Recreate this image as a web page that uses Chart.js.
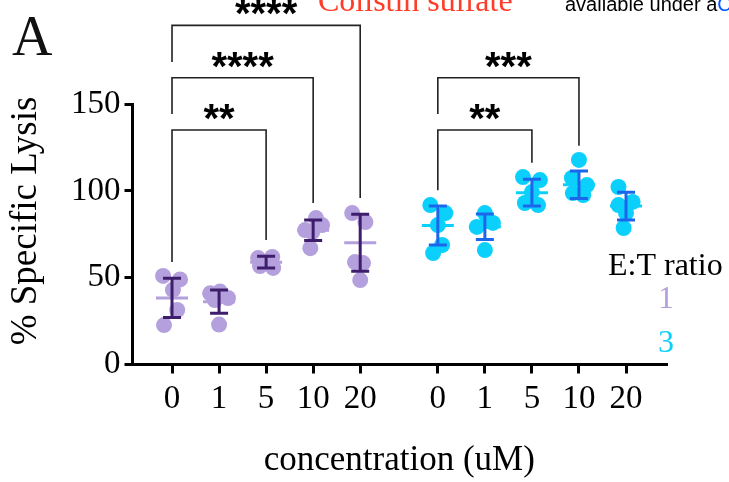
<!DOCTYPE html>
<html>
<head>
<meta charset="utf-8">
<script src="https://cdn.jsdelivr.net/npm/chart.js@4.4.1/dist/chart.umd.min.js"></script>
<style>
  html, body { margin: 0; padding: 0; background: #fff; }
  #wrap { width: 729px; height: 482px; }
</style>
</head>
<body>
<div id="wrap"><canvas id="lysisChart" width="729" height="482"></canvas></div>
<script>
// concentraciones (uM) en cada bloque
const concLabels = ['0', '1', '5', '10', '20'];
const ratioLabels = ['1', '3'];

// E:T 1 - valores individuales por concentración
const et1Values = [
  [51, 49, 43, 31.4, 22.7],
  [42, 41, 38.3, 37.1, 23],
  [61.3, 61.9, 59, 56.7, 55.6],
  [84.3, 80.3, 77.4, 76.3, 67],
  [87.2, 82, 59, 58.4, 48.6]
];
const et1Jitter = [
  [-0.19, 0.17, 0.02, 0.11, -0.17],
  [0.02, -0.19, 0.19, -0.09, 0],
  [-0.17, 0.13, 0, -0.13, 0.15],
  [0.06, 0.19, -0.17, -0.02, -0.06],
  [-0.17, 0.11, -0.11, 0.06, 0]
];
const et1Mean = [38.3, 36.2, 58.9, 77.3, 70.1];
const et1Sd = [11.3, 6.7, 3.4, 5.9, 16.4];

// E:T 3
const et3Values = [
  [91.8, 87.2, 80.3, 68.8, 64.2],
  [87.2, 79.2, 81.5, 82.6, 65.9],
  [107.9, 106.2, 99.3, 93, 91.8],
  [117.8, 107.4, 103.3, 98.7, 97.6],
  [102.2, 93.6, 91.8, 87.2, 78.6]
];
const et3Jitter = [
  [-0.16, 0.16, 0, 0.09, -0.1],
  [0, -0.17, 0.17, 0.06, 0],
  [-0.19, 0.17, 0, -0.15, 0.13],
  [0, -0.15, 0.17, -0.13, 0.09],
  [-0.16, 0.14, -0.16, 0, -0.05]
];
const et3Mean = [80, 79.3, 98.9, 103.5, 91.2];
const et3Sd = [11.2, 7.3, 7.7, 7.9, 8];

// comparaciones (índice de columna 0-9)
const bracketFrom = [0, 0, 0, 5, 5];
const bracketTo = [2, 3, 4, 7, 8];
const bracketTop = [135, 165.1, 195.3, 135, 165.1];
const bracketLeftEnd = [59, 144.2, 174.2, 100.4, 144.2];
const bracketRightEnd = [71.7, 93, 95.9, 116.1, 125.9];
const bracketLabel = ['**', '****', '****', '**', '***'];

const yTicks = [0, 50, 100, 150];

// posición de cada columna en el eje x
const blockStart = [0, 5.65];
const colPos = [];
blockStart.forEach(b => concLabels.forEach((c, i) => colPos.push(b + i)));

const light = ['rgb(180,160,220)', 'rgb(12,208,252)'];
const dark = ['rgb(62,30,108)', 'rgb(28,102,236)'];

function toPoints(values, jitter, block) {
  const pts = [];
  values.forEach((col, i) => {
    col.forEach((v, k) => pts.push({ x: blockStart[block] + i + jitter[i][k], y: v }));
  });
  return pts;
}

const serif = '"Liberation Serif", "Times New Roman", serif';

const extras = {
  id: 'extras',
  afterDatasetsDraw(chart) {
    const { ctx, scales: { x, y } } = chart;
    ctx.save();
    // media y desviación
    [[et1Mean, et1Sd], [et3Mean, et3Sd]].forEach(([means, sds], g) => {
      means.forEach((m, i) => {
        const cx = x.getPixelForValue(blockStart[g] + i);
        const my = y.getPixelForValue(m);
        const hi = y.getPixelForValue(m + sds[i]);
        const lo = y.getPixelForValue(m - sds[i]);
        ctx.lineWidth = 3;
        ctx.strokeStyle = light[g];
        ctx.beginPath();
        ctx.moveTo(cx - 16, my); ctx.lineTo(cx + 16, my);
        ctx.stroke();
        ctx.strokeStyle = dark[g];
        ctx.beginPath();
        ctx.moveTo(cx, hi); ctx.lineTo(cx, lo);
        ctx.moveTo(cx - 9, hi); ctx.lineTo(cx + 9, hi);
        ctx.moveTo(cx - 9, lo); ctx.lineTo(cx + 9, lo);
        ctx.stroke();
      });
    });
    // corchetes de significancia
    ctx.strokeStyle = '#222';
    ctx.lineWidth = 1.6;
    ctx.fillStyle = '#000';
    ctx.font = 'bold 40px "Liberation Sans", Arial, sans-serif';
    ctx.textAlign = 'center';
    bracketFrom.forEach((f, i) => {
      const x1 = x.getPixelForValue(colPos[f]);
      const x2 = x.getPixelForValue(colPos[bracketTo[i]]);
      const top = y.getPixelForValue(bracketTop[i]);
      ctx.beginPath();
      ctx.moveTo(x1, y.getPixelForValue(bracketLeftEnd[i]));
      ctx.lineTo(x1, top);
      ctx.lineTo(x2, top);
      ctx.lineTo(x2, y.getPixelForValue(bracketRightEnd[i]));
      ctx.stroke();
      const m = ctx.measureText(bracketLabel[i]);
      const cy = top - 18;
      ctx.fillText(bracketLabel[i], (x1 + x2) / 2,
        cy + (m.actualBoundingBoxAscent - m.actualBoundingBoxDescent) / 2);
    });
    ctx.restore();
  },
  afterDraw(chart) {
    const { ctx, chartArea } = chart;
    ctx.save();
    // títulos de ejes
    ctx.fillStyle = '#000';
    ctx.textAlign = 'center';
    ctx.font = '35px ' + serif;
    ctx.fillText('concentration (uM)', (chartArea.left + chartArea.right) / 2, 470);
    ctx.save();
    ctx.translate(36, 221);
    ctx.rotate(-Math.PI / 2);
    ctx.font = '37px ' + serif;
    ctx.fillText('% Specific Lysis', 0, 0);
    ctx.restore();

    ctx.textAlign = 'left';
    ctx.fillStyle = '#111';
    ctx.font = '56px ' + serif;
    ctx.fillText('A', 12, 55);
    ctx.font = '32px ' + serif;
    ctx.fillStyle = '#000';
    ctx.fillText('E:T ratio', 608, 275);
    ctx.textAlign = 'center';
    ctx.fillStyle = light[0];
    ctx.fillText(ratioLabels[0], 666, 308);
    ctx.fillStyle = light[1];
    ctx.fillText(ratioLabels[1], 666, 352);
    // texto recortado de la figura original
    ctx.textAlign = 'left';
    ctx.fillStyle = 'rgb(255,60,40)';
    ctx.fillText('Colistin sulfate', 318, 11);
    ctx.font = '20px "Liberation Sans", Arial, sans-serif';
    ctx.fillStyle = '#000';
    const t = 'available under a';
    ctx.fillText(t, 565, 11);
    ctx.fillStyle = 'rgb(0,90,255)';
    ctx.fillText('C', 565 + ctx.measureText(t).width, 11);
    ctx.restore();
  }
};

const ctx = document.getElementById('lysisChart').getContext('2d');
new Chart(ctx, {
  type: 'scatter',
  data: {
    datasets: [
      { label: 'E:T 1', data: toPoints(et1Values, et1Jitter, 0), backgroundColor: light[0] },
      { label: 'E:T 3', data: toPoints(et3Values, et3Jitter, 1), backgroundColor: light[1] }
    ]
  },
  options: {
    responsive: false,
    animation: false,
    layout: { padding: { left: 0, right: 63, top: 104, bottom: 0 } },
    elements: { point: { radius: 8, hoverRadius: 8, borderWidth: 0 } },
    plugins: { legend: { display: false }, tooltip: { enabled: false } },
    scales: {
      x: {
        type: 'linear',
        min: -0.84,
        max: 10.5,
        afterBuildTicks: s => { s.ticks = colPos.map(v => ({ value: v })); },
        afterFit: s => { s.height = 117.5; },
        ticks: {
          callback: (v, i) => concLabels[i % concLabels.length],
          color: '#000',
          font: { family: serif, size: 33 },
          padding: 6,
          maxRotation: 0,
          autoSkip: false
        },
        grid: { drawOnChartArea: false, tickLength: 9, lineWidth: 3, color: '#000' },
        border: { width: 3, color: '#000' }
      },
      y: {
        min: 0,
        max: 150,
        afterBuildTicks: s => { s.ticks = yTicks.map(v => ({ value: v })); },
        afterFit: s => { s.width = 132.5; },
        ticks: { color: '#000', font: { family: serif, size: 33 }, padding: 4 },
        grid: { drawOnChartArea: false, tickLength: 8, lineWidth: 3, color: '#000' },
        border: { width: 3, color: '#000' }
      }
    }
  },
  plugins: [extras]
});
</script>
</body>
</html>
